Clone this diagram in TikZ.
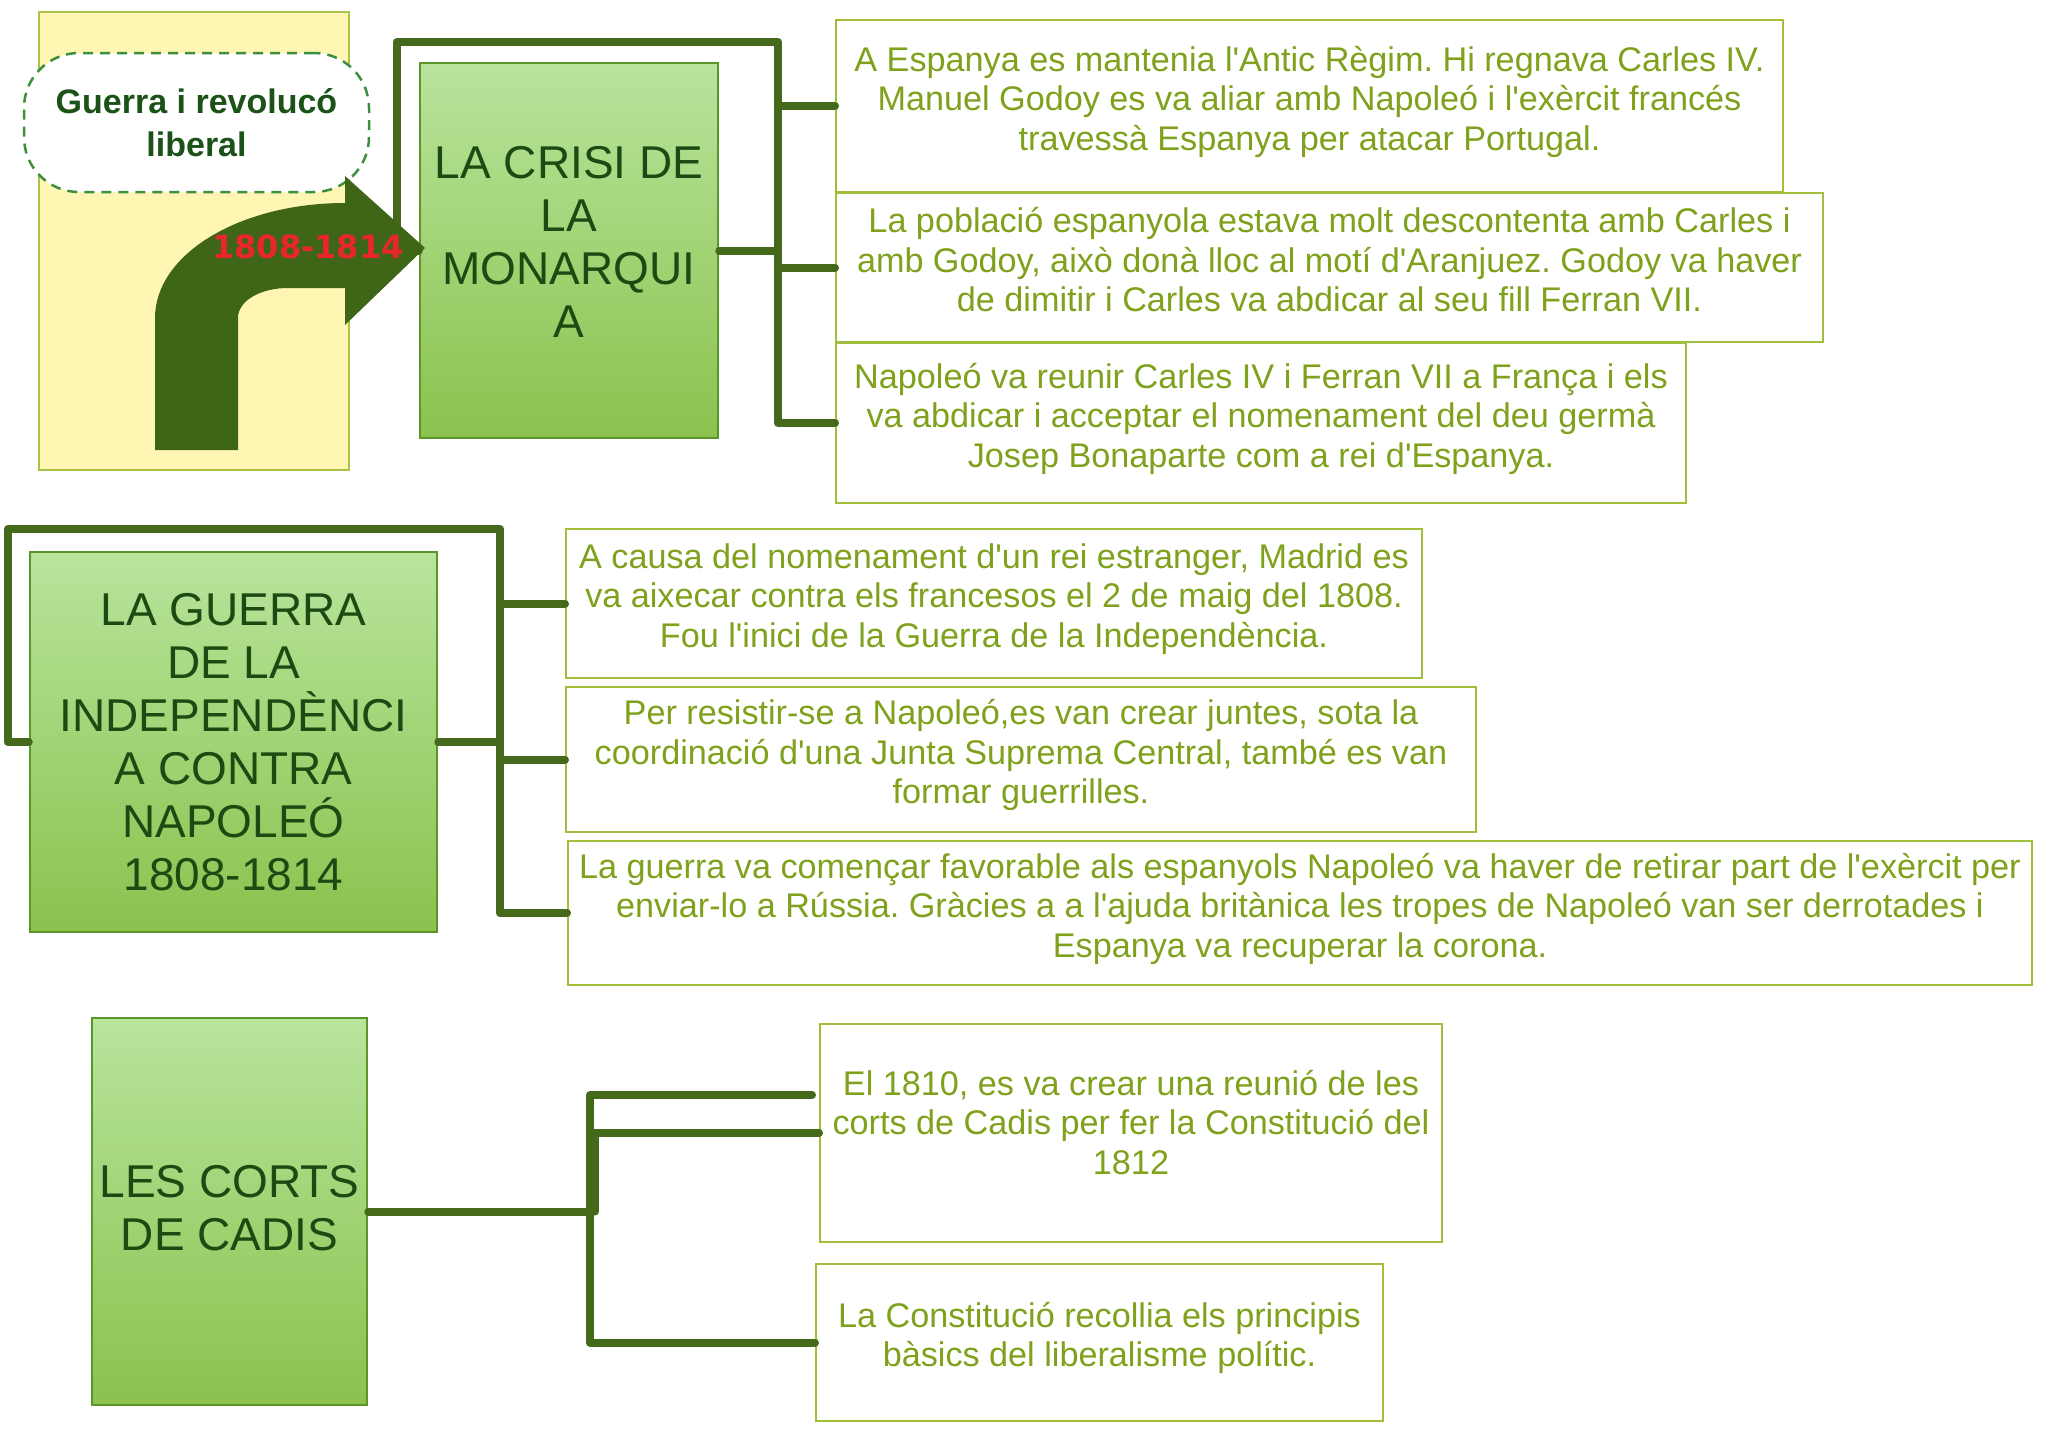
\documentclass[tikz,border=0pt]{standalone}
\usepackage{fontspec}
\setmainfont{Liberation Sans}[Ligatures=TeXOff]
\newfontfamily\yearfont{DejaVu Sans}
\usetikzlibrary{positioning, calc}

\definecolor{boxTop}{HTML}{B8E49C}
\definecolor{boxBottom}{HTML}{8BC24E}
\definecolor{boxEdge}{HTML}{5A962A}
\definecolor{titleText}{HTML}{1C4A12}
\definecolor{infoEdge}{HTML}{A2BF3C}
\definecolor{infoText}{HTML}{7FA11C}
\definecolor{linkGreen}{HTML}{44691A}
\definecolor{arrowGreen}{HTML}{3F6517}
\definecolor{noteYellow}{HTML}{FFF6B4}
\definecolor{noteEdge}{HTML}{A9C247}
\definecolor{bubbleEdge}{HTML}{3C8F3C}
\definecolor{bubbleText}{HTML}{1A5218}
\definecolor{yearRed}{HTML}{E8262B}

\begin{document}
\frenchspacing
\begin{tikzpicture}[
    x=1pt, y=-1pt,
    titleNode/.style={rectangle, draw=boxEdge, line width=2.5pt, top color=boxTop, bottom color=boxBottom, text=titleText, font=\fontsize{46}{53}\selectfont, align=center, inner sep=0pt},
    infoNode/.style={rectangle, draw=infoEdge, line width=2pt, fill=white, text=infoText, font=\fontsize{34.2}{39.5}\selectfont, align=center, inner sep=0pt, text depth=16pt},
    panelNode/.style={rectangle, draw=noteEdge, line width=2pt, fill=noteYellow},
    bubbleNode/.style={rectangle, rounded corners=55pt, draw=bubbleEdge, line width=2.5pt, dash pattern=on 10pt off 7pt, fill=white, text=bubbleText, font=\fontsize{34}{43}\selectfont\bfseries, align=center},
    linkLine/.style={draw=linkGreen, line width=8pt, line cap=round, line join=round}
]
    \useasboundingbox (0,0) rectangle (2048,1432);

    % Title panel
    \node[panelNode, minimum width=310pt, minimum height=458pt] (panel) at (194,241) {};
    \node[bubbleNode, minimum width=345pt, minimum height=139pt] (title) at (196.5,122.5) {Guerra i revolucó\\liberal};

    % Main boxes
    \node[titleNode, minimum width=298pt, minimum height=375pt, text depth=18pt] (crisi) at (569,250.5) {LA CRISI DE\\LA\\MONARQUI\\A};
    \node[titleNode, minimum width=407pt, minimum height=380pt] (guerra) at (233.5,742) {LA GUERRA\\DE LA\\INDEPENDÈNCI\\A CONTRA\\NAPOLEÓ\\1808-1814};
    \node[titleNode, minimum width=275pt, minimum height=387pt, text depth=8pt] (corts) at (229.5,1211.5) {LES CORTS\\DE CADIS};

    % Text boxes: la crisi
    \node[infoNode, minimum width=947pt, minimum height=172pt] (crisiA) at (1309.5,106) {A Espanya es mantenia l'Antic Règim. Hi regnava Carles IV.\\Manuel Godoy es va aliar amb Napoleó i l'exèrcit francés\\travessà Espanya per atacar Portugal.};
    \node[infoNode, minimum width=987pt, minimum height=149pt] (crisiB) at (1329.5,267.5) {La població espanyola estava molt descontenta amb Carles i\\amb Godoy, això donà lloc al motí d'Aranjuez. Godoy va haver\\de dimitir i Carles va abdicar al seu fill Ferran VII.};
    \node[infoNode, minimum width=850pt, minimum height=160pt] (crisiC) at (1261,423) {Napoleó va reunir Carles IV i Ferran VII a França i els\\va abdicar i acceptar el nomenament del deu germà\\Josep Bonaparte com a rei d'Espanya.};

    % Text boxes: la guerra
    \node[infoNode, minimum width=856pt, minimum height=149pt] (guerraA) at (994,603.5) {A causa del nomenament d'un rei estranger, Madrid es\\va aixecar contra els francesos el 2 de maig del 1808.\\Fou l'inici de la Guerra de la Independència.};
    \node[infoNode, minimum width=910pt, minimum height=145pt] (guerraB) at (1021,759.5) {Per resistir-se a Napoleó,es van crear juntes, sota la\\coordinació d'una Junta Suprema Central, també es van\\formar guerrilles.};
    \node[infoNode, minimum width=1464pt, minimum height=144pt] (guerraC) at (1300,913) {La guerra va començar favorable als espanyols Napoleó va haver de retirar part de l'exèrcit per\\enviar-lo a Rússia. Gràcies a a l'ajuda britànica les tropes de Napoleó van ser derrotades i\\Espanya va recuperar la corona.};

    % Text boxes: les corts
    \node[infoNode, minimum width=622pt, minimum height=218pt, text depth=22pt] (cortsA) at (1131,1133) {El 1810, es va crear una reunió de les\\corts de Cadis per fer la Constitució del\\1812};
    \node[infoNode, minimum width=567pt, minimum height=157pt] (cortsB) at (1099.5,1342.5) {La Constitució recollia els principis\\bàsics del liberalisme polític.};

    % Connecting lines
    \coordinate (crisiTop) at (778,42);
    \coordinate (crisiJoin) at (778,250.5);
    \draw[linkLine] (crisi.west) -- ++(-22,0) |- (crisiTop) |- (crisiC.west);
    \draw[linkLine] (crisi.east) -- (crisiJoin);
    \draw[linkLine] (crisiJoin) |- (crisiA.west);
    \draw[linkLine] (crisiJoin) |- (crisiB.west);

    \coordinate (guerraTop) at (500,529);
    \coordinate (guerraJoin) at (500,742);
    \draw[linkLine] (guerra.west) -- ++(-21,0) |- (guerraTop) |- (guerraC.west);
    \draw[linkLine] (guerra.east) -- (guerraJoin);
    \draw[linkLine] (guerraJoin) |- (guerraA.west);
    \draw[linkLine] (guerraJoin) |- (guerraB.west);

    \coordinate (cortsJoin) at (590,1211.5);
    \coordinate (cortsEnd) at (812,1095);
    \draw[linkLine] (corts.east) -- (cortsJoin);
    \draw[linkLine] (cortsJoin) |- (cortsEnd);
    \draw[linkLine] ([xshift=5pt]cortsJoin) |- (cortsA.west);
    \draw[linkLine] (cortsJoin) |- (cortsB.west);

    % Bent arrow
    \fill[arrowGreen] (155,450) -- (155,318) .. controls (155,254) and (240,203) .. (345,203) -- (345,176) -- (425,248) -- (345,325) -- (345,288) -- (288,288) .. controls (260,288) and (238,301) .. (238,318) -- (238,450) -- cycle;
    \node[text=yearRed, font=\yearfont\fontsize{32}{36}\selectfont\bfseries] (years) at (308,247) {1808-1814};

\end{tikzpicture}
\end{document}
